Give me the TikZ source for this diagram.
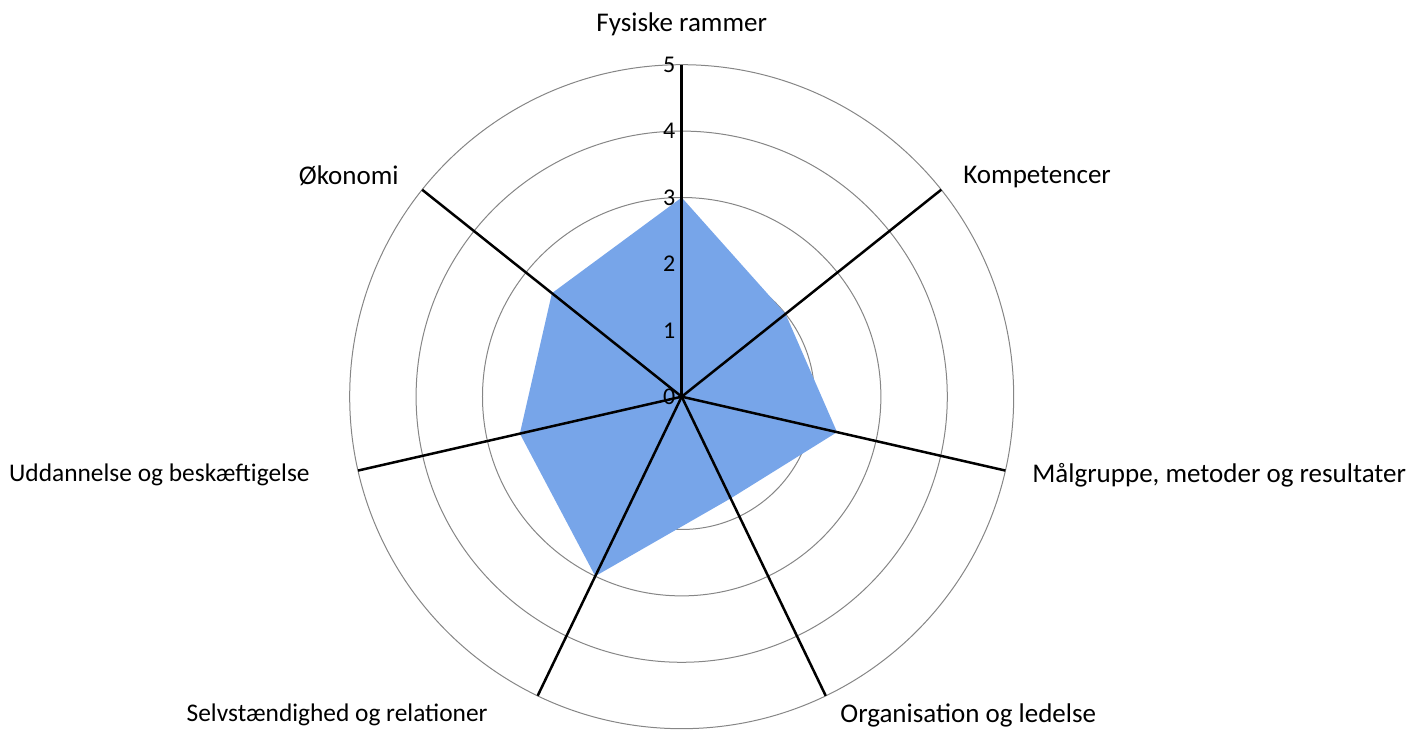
\documentclass[tikz,border=0pt]{standalone}
\usepackage{fontspec}
\setmainfont{Carlito}
\definecolor{score}{RGB}{119,165,233}
\definecolor{ringgray}{RGB}{134,134,134}

\begin{document}
\begin{tikzpicture}[x=0.5pt, y=0.5pt,
		ring/.style={draw=ringgray, line width=0.5pt},
		spoke/.style={line width=1.25pt},
		tick/.style={anchor=east, inner sep=0pt, font=\fontsize{12}{14}\selectfont},
		axislabel/.style={inner sep=0pt, font=\fontsize{13.5}{16}\selectfont},
		widelabel/.style={axislabel, font=\fontsize{12.7}{15}\selectfont}]
		\useasboundingbox (-681.7,-334.3) rectangle (728.3,396.7);
		\coordinate (o) at (0,0);

		% rings 1..5
		\foreach \r in {1,...,5}
			\draw[ring] (o) circle[radius=\r*66.4];

		% scores
		\foreach \i/\v in {0/3, 1/2, 2/2.4, 3/1.7, 4/3, 5/2.5, 6/2.5}
			\coordinate (p\i) at ({90-\i*360/7}:\v*66.4);
		\fill[score] (p0) -- (p1) -- (p2) -- (p3) -- (p4) -- (p5) -- (p6) -- cycle;

		% spokes
		\foreach \i in {0,...,6} {
			\coordinate (s\i) at ({90-\i*360/7}:332);
			\draw[spoke] (o) -- (s\i);
		}

		% scale
		\foreach \r in {0,...,5}
			\node[tick] (t\r) at (-6, \r*66.4) {\r};

		% axis names
		\node[axislabel] (fys) at (0, 372) {Fysiske rammer};
		\node[axislabel, anchor=west] (komp) at (281.3, 219.7) {Kompetencer};
		\node[axislabel, anchor=west] (maal) at (350.3, -78.3) {Målgruppe, metoder og resultater};
		\node[axislabel, anchor=west] (org) at (158.3, -318.3) {Organisation og ledelse};
		\node[widelabel, anchor=east] (selv) at (-193.7, -318.3) {Selvstændighed og relationer};
		\node[widelabel, anchor=east] (udd) at (-371.7, -78.3) {Uddannelse og beskæftigelse};
		\node[axislabel, anchor=east] (oko) at (-282.7, 220.7) {Økonomi};
	\end{tikzpicture}
\end{document}
